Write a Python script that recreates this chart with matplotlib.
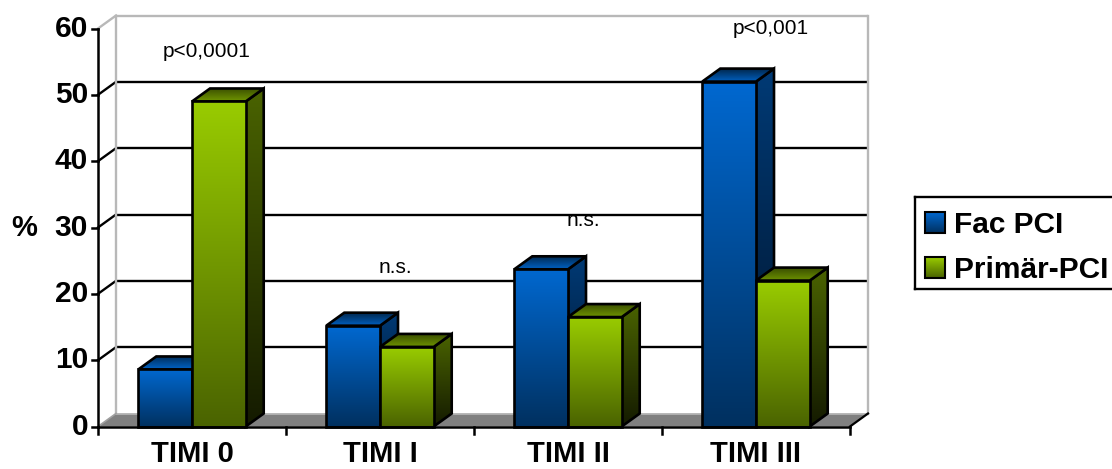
import numpy as np
import matplotlib
matplotlib.use("Agg")
import matplotlib.pyplot as plt
from matplotlib.patches import Polygon, Rectangle
from matplotlib.colors import to_rgb

plt.rcParams['font.family'] = ['Liberation Sans', 'DejaVu Sans']

# ---- data ----
categories = ["TIMI 0", "TIMI I", "TIMI II", "TIMI III"]
series_names = ["Fac PCI", "Primär-PCI"]
fac_pci = [8.6, 15.2, 23.7, 52.0]
primaer_pci = [49.0, 12.0, 16.5, 22.0]
y_ticks = [0, 10, 20, 30, 40, 50, 60]
p_labels = ["p<0,0001", "n.s.", "n.s.", "p<0,001"]
p_label_y = [56.5, 23.9, 31.0, 60.0]

# ---- layout (figure pixels) ----
W, H = 1112, 469
X0_PX, CAT_PX = 98, 188          # left edge of the front axis, width of a category
Y0_PX, UNIT_PX = 426.5, 6.633    # baseline row, pixels per percent
DX = 18 / CAT_PX                 # depth offset in category units
DY = 13 / UNIT_PX                # depth offset in percent units
BAR_W = 1 / 3.5                  # gap width 150 %
YMAX = y_ticks[-1]

fig = plt.figure(figsize=(W / 100, H / 100), dpi=100)
ax = fig.add_axes([0, 0, 1, 1])
ax.set_axis_off()

n_cat = len(categories)
x_left, x_right = -0.5, n_cat - 0.5

# series styles: front (top, bottom), side (top, bottom), top face (back, front)
styles = [
    dict(front=("#0068d0", "#00305f"), side=("#003a75", "#001228"), top=("#00284f", "#0062c4")),
    dict(front=("#99cc00", "#4a6300"), side=("#4a6300", "#141a00"), top=("#3a4f00", "#6f9400")),
]


def grad_face(verts, c_hi, c_lo, z, lw=1.9):
    """Fill a polygon with a vertical gradient (c_hi at its top, c_lo at its bottom)."""
    xs = [p[0] for p in verts]
    ys = [p[1] for p in verts]
    t = np.linspace(0, 1, 256)[:, None]
    hi, lo = np.array(to_rgb(c_hi)), np.array(to_rgb(c_lo))
    img = (lo + (hi - lo) * t).reshape(256, 1, 3)
    im = ax.imshow(img, extent=[min(xs), max(xs), min(ys), max(ys)], origin="lower",
                   aspect="auto", interpolation="bilinear", zorder=z)
    clip = Polygon(verts, closed=True, transform=ax.transData)
    im.set_clip_path(clip)
    ax.add_patch(Polygon(verts, closed=True, facecolor="none", edgecolor="black",
                         lw=lw, joinstyle="miter", zorder=z + 0.1))


# ---- back wall, side wall gridlines ----
wall_grey = "#b8b8b8"
for v in y_ticks:
    if v == 0:
        continue
    col = wall_grey if v == YMAX else "black"
    ax.plot([x_left + DX, x_right + DX], [v + DY, v + DY], color=col, lw=1.7, zorder=1,
            solid_capstyle="butt")
    ax.plot([x_left, x_left + DX], [v, v + DY], color=col, lw=1.7, zorder=1)
ax.plot([x_left + DX, x_left + DX], [DY, YMAX + DY], color=wall_grey, lw=1.7, zorder=1)
ax.plot([x_right + DX, x_right + DX], [DY, YMAX + DY], color=wall_grey, lw=1.7, zorder=1)

# ---- floor ----
floor = [(x_left, 0), (x_right, 0), (x_right + DX, DY), (x_left + DX, DY)]
ax.add_patch(Polygon(floor, closed=True, facecolor="#808080", edgecolor="none", zorder=2))
ax.plot([x_left + DX, x_right + DX], [DY, DY], color=wall_grey, lw=1.2, zorder=2.1)
ax.plot([x_right, x_right + DX], [0, DY], color="black", lw=1.6, zorder=2.1)
ax.plot([x_left, x_left + DX], [0, DY], color="#a0a0a0", lw=1.2, zorder=2.1)

# ---- bars ----
z = 3
for i in range(n_cat):
    for s, vals in enumerate([fac_pci, primaer_pci]):
        v = vals[i]
        st = styles[s]
        x0 = i - BAR_W + s * BAR_W
        x1 = x0 + BAR_W
        side = [(x1, 0), (x1 + DX, DY), (x1 + DX, v + DY), (x1, v)]
        top = [(x0, v), (x1, v), (x1 + DX, v + DY), (x0 + DX, v + DY)]
        front = [(x0, 0), (x1, 0), (x1, v), (x0, v)]
        grad_face(side, st["side"][0], st["side"][1], z); z += 1
        grad_face(top, st["top"][0], st["top"][1], z); z += 1
        grad_face(front, st["front"][0], st["front"][1], z); z += 1

# ---- front axes ----
ax.plot([x_left, x_left], [0, YMAX], color="black", lw=1.8, zorder=z)
ax.plot([x_left, x_right], [0, 0], color="black", lw=1.8, zorder=z)
tick_len_x = 6 / CAT_PX
for v in y_ticks:
    ax.plot([x_left - tick_len_x, x_left], [v, v], color="black", lw=1.8, zorder=z)
    ax.text(x_left - 10 / CAT_PX, v, str(v), ha="right", va="center",
            fontsize=21.5, fontweight="bold", zorder=z)
tick_len_y = 7 / UNIT_PX
for b in np.arange(n_cat + 1) - 0.5:
    ax.plot([b, b], [0, -tick_len_y], color="black", lw=1.8, zorder=z)
for i, c in enumerate(categories):
    ax.text(i, -5.4, c, ha="center", va="baseline", fontsize=21,
            fontweight="bold", zorder=z)
ax.text(-0.894, 30, "%", ha="center", va="center", fontsize=21, fontweight="bold")

# significance labels
for i, (lab, yv) in enumerate(zip(p_labels, p_label_y)):
    ax.text(i + 0.08, yv, lab, ha="center", va="center", fontsize=15, zorder=z)

ax.set_xlim(-0.5 - X0_PX / CAT_PX, -0.5 + (W - X0_PX) / CAT_PX)
ax.set_ylim(-(H - Y0_PX) / UNIT_PX, Y0_PX / UNIT_PX)

# ---- legend ----
lx0, ly0, lw_px, lh_px = 915, 197, 220, 92
lax = fig.add_axes([lx0 / W, 1 - (ly0 + lh_px) / H, lw_px / W, lh_px / H])
lax.set_xlim(0, lw_px)
lax.set_ylim(lh_px, 0)
lax.set_xticks([])
lax.set_yticks([])
for sp in lax.spines.values():
    sp.set_linewidth(1.7)
    sp.set_color("black")
for s, name in enumerate(series_names):
    yt = 15 + s * 45
    hi, lo = styles[s]["front"]
    t = np.linspace(0, 1, 64)[:, None]
    img = (np.array(to_rgb(hi)) * (1 - t) + np.array(to_rgb(lo)) * t).reshape(64, 1, 3)
    lax.imshow(img, extent=[10, 30, yt + 21, yt], aspect="auto", interpolation="bilinear")
    lax.add_patch(Rectangle((10, yt), 20, 21, facecolor="none", edgecolor="black", lw=1.5))
    lax.text(39, yt + 21, name, ha="left", va="baseline", fontsize=21.5, fontweight="bold")
lax.set_xlim(0, lw_px)
lax.set_ylim(lh_px, 0)

fig.savefig("out.png", dpi=100)
